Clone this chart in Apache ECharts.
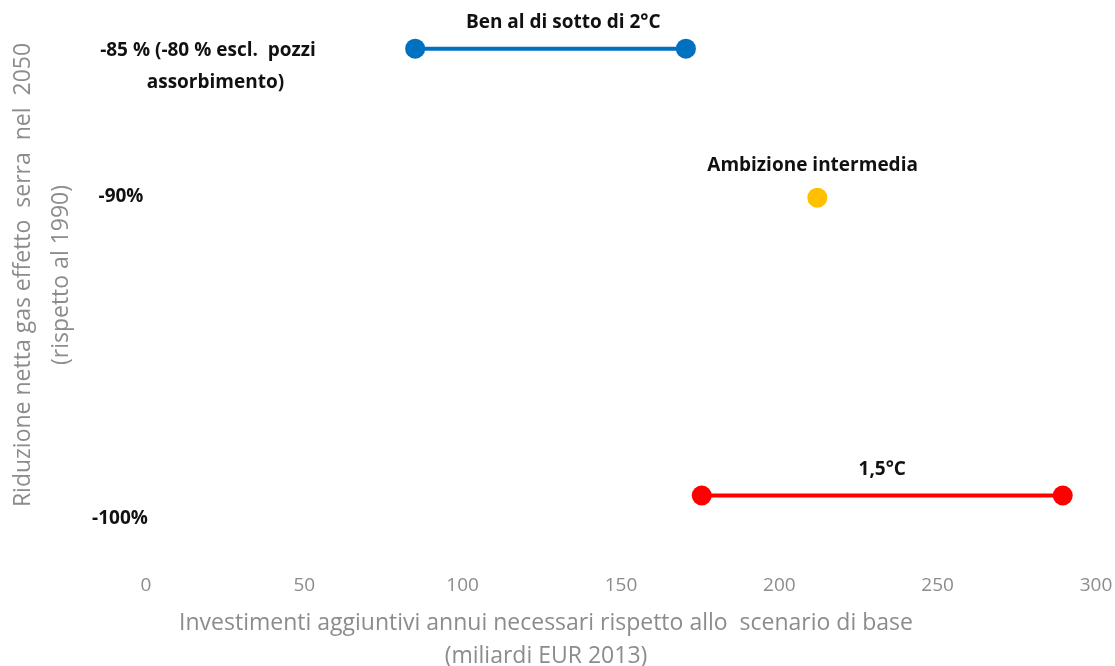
<!doctype html>
<html>
<head>
    <meta charset="utf-8">
    <title>Investimenti e riduzione gas serra</title>
    <style>
        html, body {
            margin: 0;
            padding: 0;
            background: #fff;
        }
        #main {
            width: 1115px;
            height: 666px;
        }
    </style>
</head>
<body>
<div id="main"></div>
<script src="https://cdn.jsdelivr.net/npm/echarts@6/dist/echarts.min.js"></script>
<script>
    // dati
    var scenari = ['Ben al di sotto di 2°C', 'Ambizione intermedia', '1,5°C'];
    var riduzione = [-85, -90, -100];               // % rispetto al 1990
    var investMin = [85, 212, 175.5];               // miliardi EUR 2013
    var investMax = [170.5, 212, 289.5];
    var colori = ['#0070C0', '#FFC000', '#FF0000'];
    var xTicks = [0, 50, 100, 150, 200, 250, 300];

    var sans = "'Open Sans', 'Noto Sans', sans-serif";

    var chart = echarts.init(document.getElementById('main'));

    var series = scenari.map(function (nome, i) {
        var pts = investMin[i] === investMax[i]
            ? [[investMin[i], riduzione[i]]]
            : [[investMin[i], riduzione[i]], [investMax[i], riduzione[i]]];
        return {
            name: nome,
            type: 'line',
            data: pts,
            symbol: 'circle',
            symbolSize: 20,
            lineStyle: {color: colori[i], width: 4},
            itemStyle: {color: colori[i]},
            silent: true,
            markPoint: {
                symbol: 'circle',
                symbolSize: 0,
                data: [{
                    coord: [(investMin[i] + investMax[i]) / 2 + (i === 0 ? 4 : (i === 1 ? -1.5 : 0)), riduzione[i]],
                    label: {
                        show: true,
                        formatter: nome,
                        offset: [0, i === 1 ? -32 : -26],
                        color: '#111',
                        fontFamily: sans,
                        fontWeight: 'bold',
                        fontSize: 19
                    }
                }]
            }
        };
    });

    var option = {
        animation: false,
        grid: {left: 146, right: 19, top: 4, height: 566, containLabel: false, outerBoundsMode: 'none'},
        xAxis: {
            type: 'value',
            min: 0,
            max: 300,
            interval: 50,
            axisLine: {show: false},
            axisTick: {show: false},
            splitLine: {show: false},
            axisLabel: {
                color: '#8c8c8c',
                fontFamily: sans,
                fontSize: 19,
                margin: 6,
                formatter: function (v) { return xTicks.indexOf(v) >= 0 ? String(v) : ''; }
            },
            name: 'Investimenti aggiuntivi annui necessari rispetto allo  scenario di base\n(miliardi EUR 2013)',
            nameLocation: 'middle',
            nameGap: 37,
            nameTextStyle: {
                color: '#8c8c8c',
                fontFamily: sans,
                fontSize: 23,
                lineHeight: 33,
                padding: [0, 150, 0, 0]
            }
        },
        yAxis: {
            type: 'value',
            min: -102.5,
            max: -83.5,
            axisLine: {show: false},
            axisTick: {show: false},
            splitLine: {show: false},
            axisLabel: {show: false}
        },
        graphic: [
            {
                type: 'text',
                x: 42, y: 275,
                rotation: Math.PI / 2,
                style: {
                    text: 'Riduzione netta gas effetto  serra  nel  2050\n(rispetto al 1990)',
                    fill: '#8c8c8c',
                    font: "23px 'Open Sans', 'Noto Sans', sans-serif",
                    lineHeight: 38,
                    align: 'center',
                    verticalAlign: 'middle'
                }
            },
            {
                type: 'text',
                x: 208, y: 67,
                style: {
                    text: '-85 % (-80 % escl.  pozzi\n   assorbimento)',
                    fill: '#111',
                    font: "bold 19px 'Open Sans', 'Noto Sans', sans-serif",
                    lineHeight: 32,
                    align: 'center',
                    verticalAlign: 'middle'
                }
            },
            {
                type: 'text',
                x: 121, y: 197,
                style: {
                    text: '-90%',
                    fill: '#111',
                    font: "bold 19px 'Open Sans', 'Noto Sans', sans-serif",
                    align: 'center',
                    verticalAlign: 'middle'
                }
            },
            {
                type: 'text',
                x: 120, y: 519,
                style: {
                    text: '-100%',
                    fill: '#111',
                    font: "bold 19px 'Open Sans', 'Noto Sans', sans-serif",
                    align: 'center',
                    verticalAlign: 'middle'
                }
            }
        ],
        series: series
    };

    chart.setOption(option);
</script>
</body>
</html>
